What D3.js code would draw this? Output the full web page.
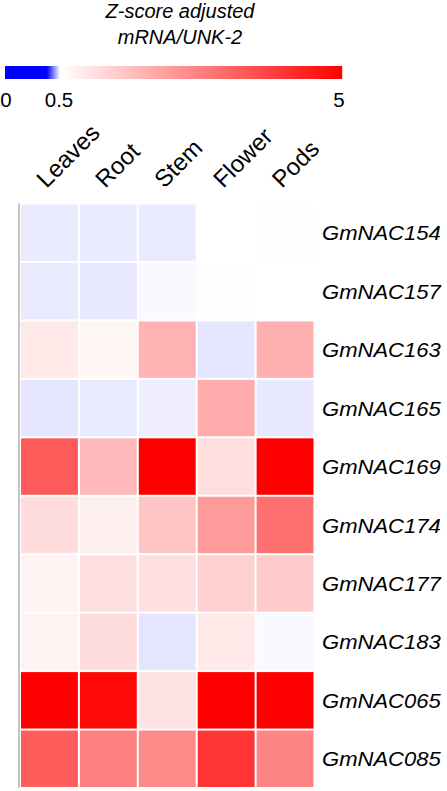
<!DOCTYPE html>
<html>
<head>
<meta charset="utf-8">
<script src="https://cdn.jsdelivr.net/npm/d3@7"></script>
<style>
  body { margin: 0; background: #fff; font-family: "Liberation Sans", Arial, sans-serif; }
</style>
</head>
<body>
<svg id="chart"></svg>
<script>
let width = 447;
let height = 791;

// data
let tissues = ['Leaves', 'Root', 'Stem', 'Flower', 'Pods'];
let genes = ['GmNAC154', 'GmNAC157', 'GmNAC163', 'GmNAC165', 'GmNAC169',
             'GmNAC174', 'GmNAC177', 'GmNAC183', 'GmNAC065', 'GmNAC085'];
let GmNAC154 = [0.490, 0.490, 0.490, 0.50, 0.55];
let GmNAC157 = [0.490, 0.489, 0.497, 0.54, 0.50];
let GmNAC163 = [0.91, 0.66, 1.84, 0.488, 1.89];
let GmNAC165 = [0.488, 0.490, 0.492, 1.96, 0.489];
let GmNAC169 = [3.41, 1.70, 5.0, 1.08, 5.0];
let GmNAC174 = [1.10, 0.76, 1.54, 2.28, 3.02];
let GmNAC177 = [0.73, 1.05, 1.05, 1.33, 1.44];
let GmNAC183 = [0.73, 1.10, 0.488, 0.89, 0.497];
let GmNAC065 = [5.0, 4.86, 1.01, 5.0, 5.0];
let GmNAC085 = [3.38, 2.74, 2.56, 4.07, 2.65];
let legendTicks = [0, 0.5, 5];

let rows = [GmNAC154, GmNAC157, GmNAC163, GmNAC165, GmNAC169,
            GmNAC174, GmNAC177, GmNAC183, GmNAC065, GmNAC085];

let cells = [];
rows.forEach((vals, i) => {
    vals.forEach((v, j) => cells.push({gene: genes[i], tissue: tissues[j], value: v}));
});

function main() {
    let svg = d3.select('#chart')
        .attr('width', width)
        .attr('height', height);

    let color = d3.scaleLinear()
        .domain([0, 0.38, 0.5, 5])
        .range(['#0000ff', '#0000ff', '#ffffff', '#ff0000']);

    // legend title
    let title = svg.append('g')
        .attr('font-style', 'italic')
        .attr('font-size', 20)
        .attr('text-anchor', 'middle');
    title.append('text')
        .attr('x', 180).attr('y', 18)
        .text('Z-score adjusted');
    title.append('text')
        .attr('x', 180).attr('y', 44)
        .text('mRNA/UNK-2');

    // legend bar
    let lx = d3.scaleLinear().domain([0, 0.5, 5]).range([5, 60, 342]);
    let steps = d3.range(5, 342, 1);
    svg.append('g')
        .selectAll('rect')
        .data(steps)
        .enter()
        .append('rect')
        .attr('x', d => d)
        .attr('y', 66)
        .attr('width', 1.2)
        .attr('height', 13)
        .attr('fill', d => color(lx.invert(d + 0.5)));

    svg.append('g')
        .attr('font-size', 20.5)
        .selectAll('text')
        .data(legendTicks)
        .enter()
        .append('text')
        .attr('text-anchor', 'middle')
        .attr('x', d => d === 0 ? 6 : d === 5 ? 339 : 59)
        .attr('y', 107)
        .text(d => d);

    // heatmap
    let x = d3.scaleBand().domain(tissues).range([20, 314.5]);
    let y = d3.scaleBand().domain(genes).range([203.5, 788]);

    svg.append('line')
        .attr('x1', 19).attr('x2', 19)
        .attr('y1', y.range()[0]).attr('y2', y.range()[1])
        .attr('stroke', '#c4c4c4')
        .attr('stroke-width', 2);

    svg.append('g')
        .selectAll('rect')
        .data(cells)
        .enter()
        .append('rect')
        .attr('x', d => x(d.tissue) + 1)
        .attr('y', d => y(d.gene) + 1)
        .attr('width', x.bandwidth() - 2)
        .attr('height', y.bandwidth() - 2)
        .attr('fill', d => color(d.value));

    // column labels
    svg.append('g')
        .attr('font-size', 24)
        .selectAll('text')
        .data(tissues)
        .enter()
        .append('text')
        .attr('transform', d => `translate(${x(d) + x.bandwidth() / 2 - 3},189) rotate(-45)`)
        .text(d => d);

    // row labels
    svg.append('g')
        .attr('font-size', 21)
        .attr('font-style', 'italic')
        .selectAll('text')
        .data(genes)
        .enter()
        .append('text')
        .attr('dy', '0.36em')
        .attr('transform', d => `translate(322,${y(d) + y.bandwidth() / 2}) scale(1.05,1)`)
        .text(d => d);
}
main()
</script>
</body>
</html>
